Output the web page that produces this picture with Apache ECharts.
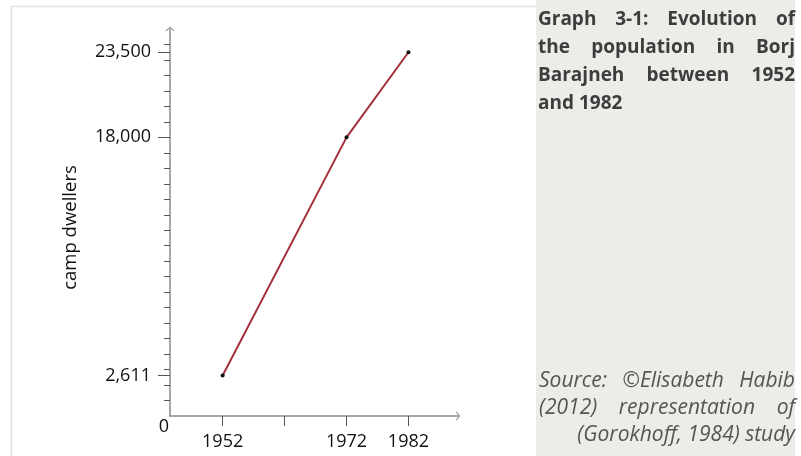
<!DOCTYPE html>
<html>
<head>
<meta charset="utf-8">
<script src="https://cdn.jsdelivr.net/npm/echarts@6/dist/echarts.min.js"></script>
<style>
  html, body { margin: 0; padding: 0; background: #fff; }
  #chart { width: 801px; height: 456px; }
</style>
</head>
<body>
<div id="chart"></div>
<script>
// data
const years = [1952, 1972, 1982];
const dwellers = [2611, 18000, 23500];
const xTicks = [1952, 1962, 1972, 1982];
const xLabels = [1952, 1972, 1982];
const yLabels = [2611, 18000, 23500];
const yMinorTicks = [1000, 2000, 3000, 4000, 5000, 6000, 7000, 8000, 9000, 10000, 11000, 12000,
  13000, 14000, 15000, 16000, 17000, 18000, 19000, 20000, 21000, 22000, 23000, 24000];
const titleLines = ['Graph 3-1: Evolution of', 'the population in Borj', 'Barajneh between 1952', 'and 1982'];
const sourceLines = ['Source: ©Elisabeth Habib', '(2012) representation of', '(Gorokhoff, 1984) study'];

const FONT = '"Open Sans"';
const axisGray = '#8a8a8a';
const tickGray = '#555';
const chevron = 'path://M0,0 L10,8 L8.6,9.6 L0,2.6 L-8.6,9.6 L-10,8 Z';

const chart = echarts.init(document.getElementById('chart'), null, { renderer: 'canvas' });

const option = {
  backgroundColor: '#fff',
  animation: false,
  grid: { left: 170, right: 343, top: 29, bottom: 40 },
  xAxis: {
    type: 'value',
    min: 1943.5, max: 1990,
    axisLine: { lineStyle: { color: axisGray, width: 1.5 }, symbol: ['none', chevron], symbolSize: [9, 6] },
    axisTick: { customValues: xTicks, length: 10, lineStyle: { color: tickGray, width: 1 } },
    axisLabel: { customValues: xLabels, margin: 17, color: '#111', fontFamily: FONT, fontSize: 18, formatter: v => String(v) },
    splitLine: { show: false }
  },
  yAxis: [
    {
      type: 'value',
      min: 0, max: 25000,
      name: 'camp dwellers',
      nameLocation: 'middle',
      nameGap: 90,
      nameTextStyle: { color: '#111', fontFamily: FONT, fontSize: 18.5, padding: [0, 10, 0, 0] },
      axisLine: { show: true, lineStyle: { color: axisGray, width: 1.5 }, symbol: ['none', chevron], symbolSize: [9, 6] },
      axisTick: { show: true, customValues: yMinorTicks, length: 6, lineStyle: { color: tickGray, width: 1 } },
      axisLabel: { show: false },
      splitLine: { show: false }
    },
    {
      type: 'value',
      min: 0, max: 25000,
      position: 'left',
      offset: 0,
      axisLine: { show: false },
      axisTick: { show: true, customValues: yLabels, length: 12, lineStyle: { color: tickGray, width: 1 } },
      axisLabel: {
        customValues: yLabels, margin: 19, color: '#111', fontFamily: FONT, fontSize: 18,
        formatter: v => echarts.format.addCommas(v)
      },
      splitLine: { show: false }
    }
  ],
  series: [{
    type: 'line',
    data: years.map((y, i) => [y, dwellers[i]]),
    symbol: 'circle',
    symbolSize: 4,
    lineStyle: { color: '#a3303c', width: 2 },
    itemStyle: { color: '#111' },
    z: 3
  }]
};
chart.setOption(option);

// right-hand caption panel, justified like the original
const ctx = document.createElement('canvas').getContext('2d');
function justified(lines, opts) {
  const els = [];
  lines.forEach((line, li) => {
    const font = opts.style + ' ' + opts.weight + ' ' + opts.size + 'px ' + FONT;
    const y = opts.top + li * opts.lead;
    const mode = opts.last && li === lines.length - 1 ? opts.last : 'justify';
    if (mode !== 'justify') {
      els.push({
        type: 'text', x: mode === 'right' ? opts.right : opts.left, y: y,
        style: { text: line, font: font, fill: opts.color, textAlign: mode, textVerticalAlign: 'middle' }
      });
      return;
    }
    ctx.font = font;
    const words = line.split(' ');
    const widths = words.map(w => ctx.measureText(w).width);
    const total = widths.reduce((a, b) => a + b, 0);
    const gap = (opts.right - opts.left - total) / (words.length - 1);
    let x = opts.left;
    words.forEach((w, wi) => {
      els.push({
        type: 'text', x: x, y: y,
        style: { text: w, font: font, fill: opts.color, textAlign: 'left', textVerticalAlign: 'middle' }
      });
      x += widths[wi] + gap;
    });
  });
  return els;
}

const origin = chart.convertToPixel({ xAxisIndex: 0, yAxisIndex: 0 }, [option.xAxis.min, 0]);

const graphics = [
  { type: 'rect', shape: { x: 11.5, y: 6.5, width: 700, height: 500 }, style: { fill: 'none', stroke: '#e4e4df', lineWidth: 1.5 }, z: -10 },
  { type: 'rect', shape: { x: 536, y: 0, width: 259, height: 456 }, style: { fill: '#edece8' }, z: -5 },
  {
    type: 'text', x: origin[0] - 6, y: origin[1] + 11,
    style: { text: '0', font: '18px ' + FONT, fill: '#111', textAlign: 'center', textVerticalAlign: 'middle' }
  }
].concat(
  justified(titleLines, { style: 'normal', weight: 'bold', size: 19, top: 19.5, lead: 28, left: 538, right: 795, color: '#3d3d3d', last: 'left' }),
  justified(sourceLines, { style: 'italic', weight: 'normal', size: 21, top: 381, lead: 27, left: 539, right: 795, color: '#555', last: 'right' })
);
chart.setOption({ graphic: graphics });
</script>
</body>
</html>
